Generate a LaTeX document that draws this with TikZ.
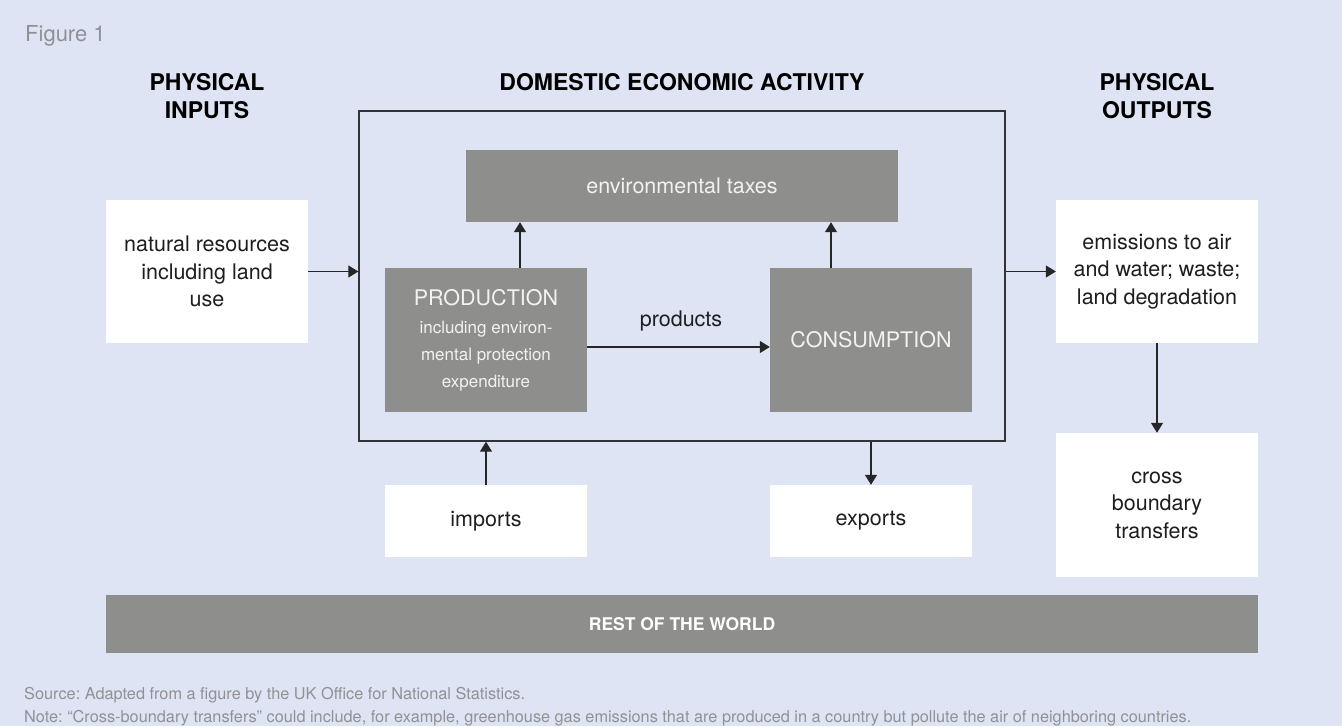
\documentclass[tikz,border=0pt]{standalone}
\usepackage{fontspec}
\setmainfont{TeX Gyre Heros}
\usetikzlibrary{arrows.meta}
\definecolor{bg}{RGB}{223,228,244}
\definecolor{boxgray}{RGB}{142,142,140}
\definecolor{txtgray}{RGB}{145,145,148}
\definecolor{framecol}{RGB}{50,50,55}
\definecolor{darktxt}{RGB}{30,30,30}
\definecolor{lighttxt}{RGB}{242,242,242}
\begin{document}
\frenchspacing
\begin{tikzpicture}[x=1pt,y=-1pt,
  wbox/.style={fill=white, draw=none, minimum width=202pt, align=center,
    font=\fontsize{21.5}{27.5}\selectfont, text=darktxt, inner sep=0pt},
  gbox/.style={fill=boxgray, draw=none, align=center, text=lighttxt,
    font=\fontsize{21.5}{27}\selectfont, inner sep=0pt},
  hdr/.style={font=\fontsize{23}{28}\selectfont\bfseries, align=center, text=black, inner sep=0pt},
  arr/.style={-{Triangle[length=10pt,width=12pt]}, line width=1.3pt, draw=black!85},
  frame/.style={draw=framecol, line width=1.4pt, fill=none, inner sep=0pt},
  note/.style={font=\fontsize{16.3}{19}\selectfont, text=txtgray, anchor=base west, inner sep=0pt}
]
\fill[bg] (0,0) rectangle (1342,726);
\useasboundingbox (0,0) rectangle (1342,726);

% title
\node[anchor=base west, inner sep=0pt, text=txtgray, font=\fontsize{22}{26}\selectfont] (fig) at (25,41) {Figure 1};

% headers
\node[hdr] (hin) at (207,96) {PHYSICAL\\INPUTS};
\node[hdr, anchor=base] (hdom) at (682,90) {DOMESTIC ECONOMIC ACTIVITY};
\node[hdr] (hout) at (1157,96) {PHYSICAL\\OUTPUTS};

% domestic frame
\node[frame, minimum width=646pt, minimum height=330pt] (dom) at (682,276) {};

% boxes
\node[wbox, minimum height=143pt] (nat) at (207,271.5) {natural resources\\including land\\use};
\node[wbox, minimum height=143pt] (emis) at (1157,271.5) {emissions to air\\and water; waste;\\land degradation};
\node[wbox, minimum height=144pt] (cross) at (1157,505) {cross\\boundary\\transfers};
\node[wbox, minimum height=72pt] (imp) at (486,521) {imports};
\node[wbox, minimum height=72pt] (exp) at (871,521) {exports};

\node[gbox, minimum width=432pt, minimum height=72pt] (tax) at (682,186) {environmental taxes};
\node[gbox, minimum width=202pt, minimum height=144pt] (prod) at (486,340)
  {\fontsize{21.5}{27}\selectfont PRODUCTION\\[1pt]
   \fontsize{17}{25}\selectfont including environ-\\
   \fontsize{17}{25}\selectfont mental protection\\
   \fontsize{17}{25}\selectfont expenditure};
\node[gbox, minimum width=202pt, minimum height=144pt] (cons) at (871,340) {CONSUMPTION};

\node[fill=boxgray, minimum width=1152pt, minimum height=58pt, inner sep=0pt,
  text=white, font=\fontsize{17.5}{20}\selectfont\bfseries] (row) at (682,624) {REST OF THE WORLD};

% connector anchors
\coordinate (pt) at (520,268);
\coordinate (ct) at (831,268);

% connectors
\draw[arr] (nat.east) -- (nat.east -| dom.west);
\draw[arr] (emis.west -| dom.east) -- (emis.west);
\draw[arr] (pt) -- (pt |- tax.south);
\draw[arr] (ct) -- (ct |- tax.south);
\draw[arr] ([yshift=-7pt]prod.east) -- ([yshift=-7pt]cons.west);
\node[anchor=base, inner sep=0pt, text=darktxt, font=\fontsize{21.5}{25}\selectfont] (prodlbl) at (681,326) {products};
\draw[arr] (imp.north) -- (imp.north |- dom.south);
\draw[arr] (exp.north |- dom.south) -- (exp.north);
\draw[arr] (emis.south) -- (cross.north);

% footer
\node[note] (src) at (24,699) {Source: Adapted from a figure by the UK Office for National Statistics.};
\node[note] (nt) at (24,722) {Note: “Cross-boundary transfers” could include, for example, greenhouse gas emissions that are produced in a country but pollute the air of neighboring countries.};
\end{tikzpicture}
\end{document}
